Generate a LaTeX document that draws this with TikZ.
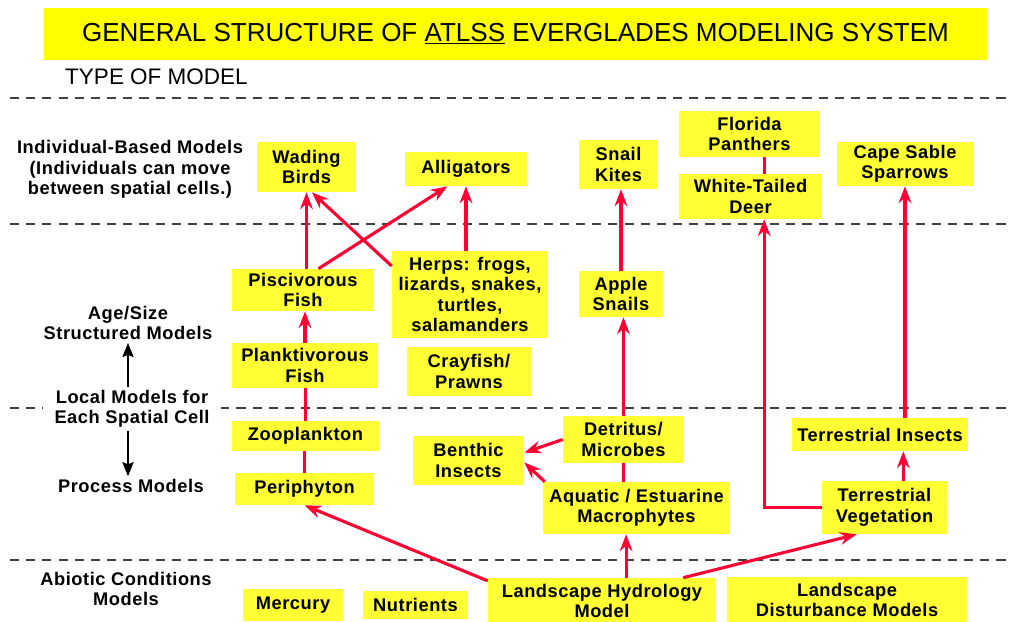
\documentclass[tikz,border=0pt]{standalone}
\usepackage{fontspec}
\setmainfont{Liberation Sans}
\newfontfamily\boxfont[LetterSpace=3]{Liberation Sans}
\usetikzlibrary{arrows.meta}
\definecolor{boxyellow}{RGB}{255,255,51}
\definecolor{titleyellow}{RGB}{255,255,0}
\definecolor{linkred}{RGB}{255,0,51}
\definecolor{rulegray}{RGB}{64,64,64}
\begin{document}
\begin{tikzpicture}[x=0.025cm, y=-0.025cm,
  every node/.style={align=center, inner sep=0pt, font=\boxfont\fontsize{13}{14.5}\selectfont\bfseries},
  box/.style={fill=boxyellow},
  lbl/.style={inner sep=2pt},
  rule/.style={draw=rulegray, line width=1.4pt, dash pattern=on 6.5pt off 5pt},
  feed/.style={draw=linkred, line width=2.2pt, -{Stealth[length=12pt,width=9pt,inset=4pt]}},
  link/.style={draw=linkred, line width=2.2pt},
  updown/.style={draw=black, line width=1pt, -{Stealth[length=10pt,width=8pt,inset=1.5pt]}}]
\useasboundingbox (0,0) rectangle (1010,622);

\foreach \y in {98,224,408,560} \draw[rule] (10,\y) -- (1010,\y);

\node[fill=titleyellow, minimum width=23.575cm, minimum height=1.3cm, font=\fontsize{18.5}{20}\selectfont] at (515.5,34) (title) {GENERAL STRUCTURE OF \underline{ATLSS} EVERGLADES MODELING SYSTEM};
\node[font=\fontsize{16}{18}\selectfont] at (156.5,77) (typeofmodel) {TYPE OF MODEL};

\node[lbl] at (130,169.5) (lblibm) {Individual-Based Models\\(Individuals can move\\between spatial cells.)};
\node[lbl] at (128,323) (lblage) {Age/Size\\Structured Models};
\node[lbl, fill=white, inner xsep=8pt] at (132,409) (lbllocal) {Local Models for\\Each Spatial Cell};
\node[lbl] at (131,486) (lblproc) {Process Models};
\node[lbl] at (126,589) (lblabiotic) {Abiotic Conditions\\Models};

\node[box, minimum width=2.475cm, minimum height=1.25cm] at (306.5,167) (wading) {Wading\\Birds};
\node[box, minimum width=3.05cm, minimum height=0.85cm] at (466,169) (gators) {Alligators};
\node[box, minimum width=1.975cm, minimum height=1.225cm] at (618.5,164.5) (kites) {Snail\\Kites};
\node[box, minimum width=3.525cm, minimum height=1.15cm] at (749.5,134) (panthers) {Florida\\Panthers};
\node[box, minimum width=3.575cm, minimum height=1.125cm] at (750.5,196.5) (deer) {White-Tailed\\Deer};
\node[box, minimum width=3.4cm, minimum height=1.1cm] at (905,164) (sparrows) {Cape Sable\\Sparrows};

\node[box, minimum width=3.55cm, minimum height=1.05cm] at (303,290) (pisci) {Piscivorous\\Fish};
\node[box, minimum width=3.9cm, minimum height=2.175cm] at (470,294.5) (herps) {Herps: frogs,\\lizards, snakes,\\turtles,\\salamanders};
\node[box, minimum width=2.1cm, minimum height=1.15cm] at (621,294) (apple) {Apple\\Snails};
\node[box, minimum width=3.65cm, minimum height=1.125cm] at (305,365.5) (plankti) {Planktivorous\\Fish};
\node[box, minimum width=3.1cm, minimum height=1.225cm] at (469,371.5) (crayfish) {Crayfish/\\Prawns};

\node[box, minimum width=3.675cm, minimum height=0.75cm] at (305.5,436) (zoo) {Zooplankton};
\node[box, minimum width=3.475cm, minimum height=0.8cm] at (304.5,489) (peri) {Periphyton};
\node[box, minimum width=2.775cm, minimum height=1.225cm] at (468.5,460.5) (benthic) {Benthic\\Insects};
\node[box, minimum width=3.025cm, minimum height=1.175cm] at (623.5,439.5) (detritus) {Detritus/\\Microbes};
\node[box, minimum width=4.675cm, minimum height=1.3cm] at (636.5,508) (macro) {Aquatic / Estuarine\\Macrophytes};
\node[box, minimum width=4.4cm, minimum height=0.825cm] at (880,434.5) (tinsects) {Terrestrial Insects};
\node[box, minimum width=3.125cm, minimum height=1.325cm] at (884.5,507.5) (tveg) {Terrestrial\\Vegetation};

\node[box, minimum width=2.5cm, minimum height=0.8cm] at (293,605) (mercury) {Mercury};
\node[box, minimum width=2.625cm, minimum height=0.7cm] at (415.5,605) (nutrients) {Nutrients};
\node[box, minimum width=5.7cm, minimum height=1.15cm] at (602,601) (hydro) {Landscape Hydrology\\Model};
\node[box, minimum width=6.0cm, minimum height=1.15cm] at (847,600) (disturb) {Landscape\\Disturbance Models};

\draw[updown] (lbllocal.north -| lblage.south) -- (lblage.south);
\draw[updown] (lbllocal.south -| lblage.south) -- (lblproc.north -| lblage.south);

\draw[feed] (pisci.north -| wading.south) -- (wading.south);
\draw[feed] (pisci.54) -- (gators.223);
\draw[feed] (herps.160) -- (wading.282);
\draw[feed] (herps.north -| gators.south) -- (gators.south);
\draw[feed] (plankti.north) -- (plankti.north |- pisci.south);
\draw[link] (zoo.north) -- (zoo.north |- plankti.south);
\draw[link] (peri.north) -- (peri.north |- zoo.south);
\draw[feed] (hydro.170) -- (peri.south);
\draw[feed] (hydro.44) -- (hydro.44 |- macro.south);
\draw[feed] (hydro.16) -- (tveg.224);
\draw[link] (detritus.south |- macro.north) -- (detritus.south);
\draw[feed] (detritus.north) -- (detritus.north |- apple.south);
\draw[feed] (apple.north) -- (apple.north |- kites.south);
\draw[feed] (detritus.west) -- (benthic.8);
\draw[feed] (macro.164) -- (benthic.-2);
\draw[feed] (tveg.west) -| (deer.-59);
\draw[link] (panthers.south -| deer.-59) -- (deer.north -| deer.-59);
\draw[feed] (tveg.55) -- (tveg.55 |- tinsects.south);
\draw[feed] (sparrows.south |- tinsects.north) -- (sparrows.south);
\end{tikzpicture}
\end{document}
